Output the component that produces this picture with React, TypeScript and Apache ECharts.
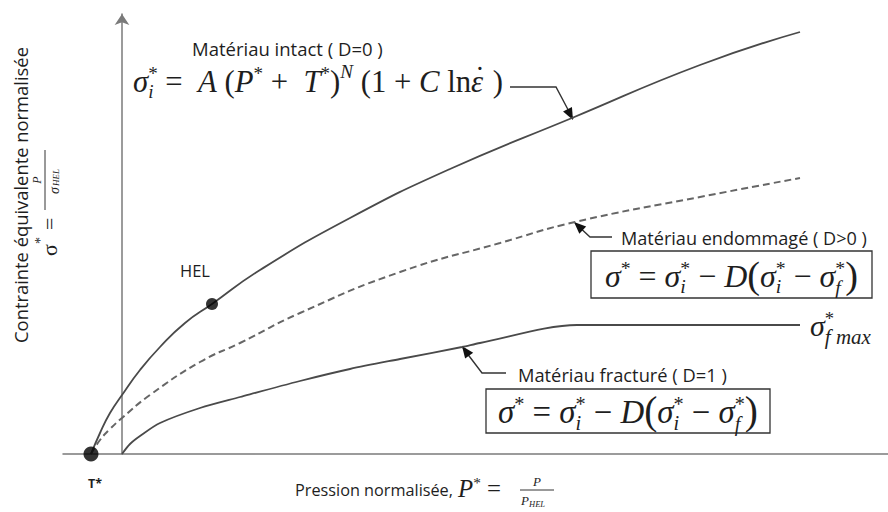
import React, { useEffect, useRef } from 'react';
import * as echarts from 'echarts';

// ---- data (normalised units) ----
const intactX = [-0.31, -0.22, -0.12, 0, 0.18, 0.38, 0.63, 0.9, 1.38, 2.28, 3.28, 4.5, 5.78, 6.78];
const intactY = [0, 0.21, 0.41, 0.59, 0.84, 1.07, 1.31, 1.5, 1.84, 2.36, 2.85, 3.36, 3.89, 4.22];
const damagedX = [-0.31, -0.22, -0.12, 0, 0.28, 0.78, 1.18, 1.78, 2.78, 3.78, 4.53, 5.78, 6.78];
const damagedY = [0, 0.14, 0.25, 0.36, 0.59, 0.92, 1.11, 1.41, 1.82, 2.11, 2.32, 2.57, 2.76];
const fracturedX = [0, 0.08, 0.18, 0.38, 0.78, 1.18, 1.78, 2.28, 2.78, 3.4, 3.58, 4.55, 6.78];
const fracturedY = [0, 0.1, 0.18, 0.31, 0.46, 0.57, 0.73, 0.85, 0.95, 1.07, 1.11, 1.29, 1.29];
const pointNames = ['T*', 'HEL'];
const pointX = [-0.31, 0.9];
const pointY = [0, 1.5];

// ---- texts ----
const yTitle = 'Contrainte équivalente normalisée';
const xTitle = 'Pression normalisée,';
const lblIntact = 'Matériau intact ( D=0 )';
const lblDamaged = 'Matériau endommagé ( D>0 )';
const lblFractured = 'Matériau fracturé ( D=1 )';

type Tok = { t: string; it?: boolean; s?: number; dy?: number; dx?: number; stack?: boolean };

const SUP = -0.38;
const SUB = 0.2;
const fIntact: Tok[] = [
  { t: 'σ', it: true }, { t: '*', s: 0.62, dy: SUP, stack: true }, { t: 'i', it: true, s: 0.62, dy: SUB },
  { t: ' =  ' }, { t: 'A', it: true }, { t: ' (' }, { t: 'P', it: true }, { t: '*', s: 0.62, dy: SUP },
  { t: ' +  ' }, { t: 'T', it: true }, { t: '*', s: 0.62, dy: SUP }, { t: ')' }, { t: 'N', it: true, s: 0.62, dy: -0.45 },
  { t: ' (1 + ' }, { t: 'C', it: true }, { t: ' ln' },
  { t: '˙', dx: 0.12, dy: -0.12, stack: true }, { t: 'ε', it: true }, { t: ' )' },
];
const fDamage: Tok[] = [
  { t: 'σ', it: true }, { t: '*', s: 0.62, dy: SUP }, { t: ' = ' },
  { t: 'σ', it: true }, { t: '*', s: 0.62, dy: SUP, stack: true }, { t: 'i', it: true, s: 0.62, dy: SUB },
  { t: ' − ' }, { t: 'D', it: true }, { t: '(', s: 1.2, dy: 0.04 },
  { t: 'σ', it: true }, { t: '*', s: 0.62, dy: SUP, stack: true }, { t: 'i', it: true, s: 0.62, dy: SUB },
  { t: ' − ' },
  { t: 'σ', it: true }, { t: '*', s: 0.62, dy: SUP, stack: true }, { t: 'f', it: true, s: 0.62, dy: SUB + 0.03 },
  { t: ')', s: 1.2, dy: 0.04 },
];
const fSigmaMax: Tok[] = [
  { t: 'σ', it: true }, { t: '*', s: 0.62, dy: SUP, stack: true }, { t: 'f ', it: true, s: 0.7, dy: SUB + 0.05 },
  { t: 'max', it: true, s: 0.7, dy: SUB + 0.05 },
];
const fPstar: Tok[] = [{ t: 'P', it: true }, { t: '*', s: 0.62, dy: SUP }, { t: ' =' }];

const SERIF = '"Liberation Serif"';
const SANS = '"Open Sans"';
const INK = '#1e1e1e';
const CURVE = '#4a4a4a';

const ctx = document.createElement('canvas').getContext('2d') as CanvasRenderingContext2D;
function fontStr(size: number, fam: string, it?: boolean, bold?: boolean) {
  return `${it ? 'italic ' : ''}${bold ? 'bold ' : ''}${size}px ${fam}`;
}
function measure(text: string, font: string) {
  ctx.font = font;
  const m = ctx.measureText(text);
  return { w: m.width, asc: m.fontBoundingBoxAscent, desc: m.fontBoundingBoxDescent };
}
function fitSize(text: string, fam: string, target: number, bold?: boolean) {
  const w = measure(text, fontStr(20, fam, false, bold)).w;
  return (20 * target) / w;
}

function layoutTokens(tokens: Tok[], x0: number, baseline: number, size: number, fam: string, emit: any[] | null) {
  let x = x0;
  let hold: number | null = null;
  for (const tk of tokens) {
    const fs = size * (tk.s ?? 1);
    const m = measure(tk.t, fontStr(fs, fam, tk.it));
    const sx = x + (tk.dx ?? 0) * size;
    const end = sx + m.w;
    if (emit) {
      const k = (m.asc - m.desc) / 2;
      emit.push({
        type: 'text',
        x: sx,
        y: baseline + (tk.dy ?? 0) * size - k,
        style: {
          text: tk.t,
          fontSize: fs,
          fontFamily: fam.replace(/"/g, ''),
          fontStyle: tk.it ? 'italic' : 'normal',
          fill: INK,
          align: 'left',
          verticalAlign: 'middle',
        },
      });
    }
    if (tk.stack) {
      hold = end;
    } else {
      x = hold != null ? Math.max(end, hold) : end;
      hold = null;
    }
  }
  return x - x0;
}
function formula(tokens: Tok[], x0: number, x1: number, baseline: number) {
  const w = layoutTokens(tokens, x0, baseline, 20, SERIF, null);
  const size = (20 * (x1 - x0)) / w;
  const out: any[] = [];
  layoutTokens(tokens, x0, baseline, size, SERIF, out);
  return out;
}
function formulaSized(tokens: Tok[], x0: number, baseline: number, size: number) {
  const out: any[] = [];
  layoutTokens(tokens, x0, baseline, size, SERIF, out);
  return out;
}
function label(text: string, x0: number, x1: number, cy: number, bold?: boolean) {
  const size = fitSize(text, SANS, x1 - x0, bold);
  return {
    type: 'text', x: x0, y: cy,
    style: { text, fontSize: size, fontFamily: 'Open Sans', fontWeight: bold ? 'bold' : 'normal', fill: INK, align: 'left', verticalAlign: 'middle' },
  };
}
function arrowHead(tip: number[], from: number[], len = 12, half = 5) {
  const dx = tip[0] - from[0];
  const dy = tip[1] - from[1];
  const L = Math.hypot(dx, dy);
  const ux = dx / L, uy = dy / L;
  const bx = tip[0] - ux * len, by = tip[1] - uy * len;
  return {
    type: 'polygon',
    shape: { points: [tip, [bx - uy * half, by + ux * half], [bx + uy * half, by - ux * half]] },
    style: { fill: '#111' },
  };
}
function leader(points: number[][]) {
  return { type: 'polyline', shape: { points }, style: { stroke: '#333', lineWidth: 1.4, fill: null } };
}

function buildGraphic() {
  const g: any[] = [];
  // y-axis title (rotated)
  const ySize = fitSize(yTitle, SANS, 296);
  g.push({
    type: 'text', x: 20, y: 195, rotation: Math.PI / 2,
    style: { text: yTitle, fontSize: ySize, fontFamily: 'Open Sans', fill: INK, align: 'center', verticalAlign: 'middle' },
  });
  // sigma* = P / sigma_HEL (rotated)
  g.push({
    type: 'group', x: 48, y: 256, rotation: Math.PI / 2,
    children: [
      { type: 'text', x: 0, y: 1, style: { text: 'σ', fontSize: 22, fontFamily: 'Liberation Serif', fill: INK, verticalAlign: 'middle', align: 'left' } },
      { type: 'text', x: 12, y: -8, style: { text: '*', fontSize: 14, fontFamily: 'Liberation Serif', fill: INK, verticalAlign: 'middle', align: 'left' } },
      { type: 'text', x: 26, y: 1, style: { text: '=', fontSize: 22, fontFamily: 'Liberation Serif', fill: INK, verticalAlign: 'middle', align: 'left' } },
      { type: 'line', shape: { x1: 46, y1: -3, x2: 106, y2: -3 }, style: { stroke: INK, lineWidth: 0.9 } },
      { type: 'text', x: 76, y: -11, style: { text: 'P', fontSize: 12, fontStyle: 'italic', fontFamily: 'Liberation Serif', fill: INK, verticalAlign: 'middle', align: 'center' } },
      { type: 'text', x: 62, y: 6, style: { text: 'σ', fontSize: 14, fontStyle: 'italic', fontFamily: 'Liberation Serif', fill: INK, verticalAlign: 'middle', align: 'left' } },
      { type: 'text', x: 70, y: 8, style: { text: 'HEL', fontSize: 9, fontStyle: 'italic', fontFamily: 'Liberation Serif', fill: INK, verticalAlign: 'middle', align: 'left' } },
    ],
  });
  // x-axis title
  g.push(label(xTitle, 295, 453, 490));
  g.push(...formula(fPstar, 458, 501, 497));
  g.push({ type: 'line', shape: { x1: 520, y1: 490, x2: 554, y2: 490 }, style: { stroke: INK, lineWidth: 0.9 } });
  g.push({ type: 'text', x: 537, y: 481, style: { text: 'P', fontSize: 13, fontStyle: 'italic', fontFamily: 'Liberation Serif', fill: INK, align: 'center', verticalAlign: 'middle' } });
  g.push({ type: 'text', x: 521, y: 500, style: { text: 'P', fontSize: 13, fontStyle: 'italic', fontFamily: 'Liberation Serif', fill: INK, align: 'left', verticalAlign: 'middle' } });
  g.push({ type: 'text', x: 529, y: 504, style: { text: 'HEL', fontSize: 8.5, fontStyle: 'italic', fontFamily: 'Liberation Serif', fill: INK, align: 'left', verticalAlign: 'middle' } });

  // point labels
  g.push(label('T*', 88, 102, 483, true));
  g.push(label('HEL', 180, 210, 270));

  // intact
  g.push(label(lblIntact, 192, 383, 48));
  g.push(...formula(fIntact, 133, 503, 92));
  g.push(leader([[510, 87], [556, 87], [573, 119]]));
  g.push(arrowHead([573, 120], [556, 87]));

  // damaged
  g.push(label(lblDamaged, 621, 867, 238));
  g.push(leader([[612, 237], [590, 237], [575, 223]]));
  g.push(arrowHead([574, 222], [590, 237]));
  g.push({ type: 'rect', shape: { x: 591, y: 251, width: 281, height: 47 }, style: { stroke: '#333', lineWidth: 1.3, fill: null } });
  g.push(...formula(fDamage, 605, 858, 287));

  // sigma_f max
  g.push(...formulaSized(fSigmaMax, 810, 336, 30));

  // fractured
  g.push(label(lblFractured, 518, 727, 374));
  g.push(leader([[506, 373], [482, 373], [463, 348]]));
  g.push(arrowHead([462, 346], [482, 373]));
  g.push({ type: 'rect', shape: { x: 486, y: 389, width: 284, height: 44 }, style: { stroke: '#333', lineWidth: 1.3, fill: null } });
  g.push(...formula(fDamage, 498, 758, 423));
  return g;
}

function buildOption(): any {
  const pairs = (xs: number[], ys: number[]) => xs.map((x, i) => [x, ys[i]]);
  return {
    animation: false,
    backgroundColor: '#ffffff',
    grid: { left: 63, right: 0, top: 14, bottom: 58 },
    xAxis: {
      type: 'value', min: -0.59, max: 7.66,
      axisLine: { show: true, onZero: false, lineStyle: { color: '#7a7a7a', width: 1.5 } },
      axisTick: { show: false }, axisLabel: { show: false }, splitLine: { show: false },
    },
    yAxis: {
      type: 'value', min: 0, max: 4.4,
      axisLine: { show: true, onZero: true, symbol: ['none', 'arrow'], symbolSize: [11, 11], symbolOffset: [0, 0], lineStyle: { color: '#7a7a7a', width: 1.5 } },
      axisTick: { show: false }, axisLabel: { show: false }, splitLine: { show: false },
    },
    series: [
      {
        name: 'intact', type: 'line', data: pairs(intactX, intactY), smooth: 0.5, showSymbol: false,
        lineStyle: { color: CURVE, width: 1.8 }, z: 3,
      },
      {
        name: 'endommagé', type: 'line', data: pairs(damagedX, damagedY), smooth: 0.5, showSymbol: false,
        lineStyle: { color: '#666', width: 2, type: [7, 4] }, z: 3,
      },
      {
        name: 'fracturé', type: 'line', data: pairs(fracturedX, fracturedY), smooth: 0.3, showSymbol: false,
        lineStyle: { color: CURVE, width: 1.8 }, z: 3,
      },
      {
        name: 'points', type: 'scatter', z: 5,
        data: pointNames.map((n, i) => ({ name: n, value: [pointX[i], pointY[i]], symbolSize: i === 0 ? 15 : 12 })),
        itemStyle: { color: '#000' },
      },
    ],
    graphic: buildGraphic(),
  };
}

export default function App() {
  const ref = useRef<HTMLDivElement>(null);
  useEffect(() => {
    const chart = echarts.init(ref.current as HTMLDivElement, null, { renderer: 'svg' });
    chart.setOption(buildOption());
    return () => chart.dispose();
  }, []);
  return <div ref={ref} style={{ position: 'fixed', left: 0, top: 0, width: 888, height: 512, background: '#fff' }} />;
}
